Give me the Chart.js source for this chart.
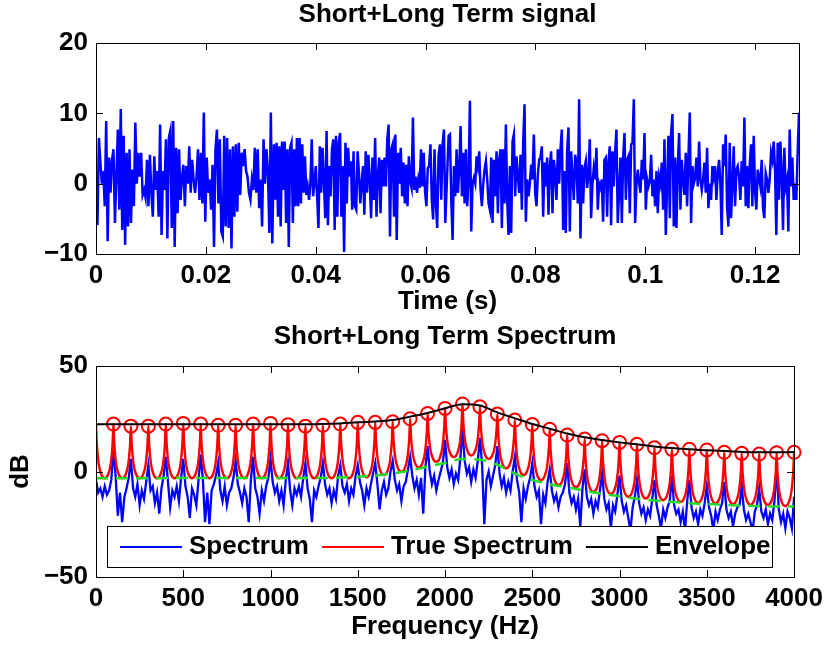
<!DOCTYPE html>
<html>
<head>
<meta charset="utf-8">
<script src="https://cdn.jsdelivr.net/npm/chart.js@4.4.1/dist/chart.umd.min.js"></script>
<style>
  html, body { margin: 0; padding: 0; background: #fff; }
  #wrap { position: relative; width: 829px; height: 648px; }
  canvas { position: absolute; left: 0; }
  #signalChart { top: 0; }
  #spectrumChart { top: 320px; }
</style>
</head>
<body>
<div id="wrap">
  <canvas id="signalChart" width="829" height="320"></canvas>
  <canvas id="spectrumChart" width="829" height="328"></canvas>
</div>
<script>
const signalPart1 = [0, -5.9, 6.5, 3, 0, 1.8, -3.2, 8.9, -8.2, 3.7,
  -1.3, 3.4, 4.9, -5.6, 1, 7.7, -3.7, 10.6, -6.6, 6.8,
  -8.7, 4.4, -6.1, 4.9, -5.6, 2, -3.2, 8.7, 0, 4.4,
  1, 4.4, -1.6, -0.9, -2, 3.4, -3.2, 4.1, -1.3, -4.7,
  3.9, -0.9, 1.8, -4.7, 8.4, -7.3, 1.8, -0.9, 6.3, -7.8,
  6.5, 7.5, -6.3, 8.9, -9, 5.1, -4.2, 4.9, -2.3, 0.8,
  2.7, -3.2, 2.5, 0, 5.3, -1.3, 3.4, 0.6, -1.3, 1,
  4.9, -2.3, 4.4, -2.8, 10.1, -5.4, 3.7, -1.3, 0.6, -3.7,
  2.7, -9, 4.9, 7.7, -2.8, 6.3, -6.8, -7.5, 6.8, -6.1,
  6.5, -6.3, 4.9, -9.2, 5.3, -4.7, 5.6, -4, 5.8, -1.6,
  4.4, 2.5, 4.9, 1.8, 1, -1.3, -2.3, 0.6, -0.9, 5.1,
  -1.3, 4.9, -3.5, 0.6, -6.1, 6.3, 0, 4.9, 1.8, -7,
  10.1, -8.5];
const signalPart2 = [5.6, -2.3, 5.8, -4.7, 5.3, -6.1, 6, -0.9, 6, -5.6,
  4.9, -9, 5.1, 5.8, -5.6, 4.9, -3.2, 6.5, -3.2, 6.5,
  -2.8, 5.6, -1.3, 3.9, -1.6, -0.4, -2.3, 0, 6.3, -1.8,
  0, 2.5, -1.8, -6.3, 5.3, -1.3, 5.1, 0.6, -4.9, 7.5,
  -5.9, 2.5, -1.8, 4.9, 6.3, -6.6, 6.8, -4.7, 5.8, 7.2,
  -4.7, 2.5, -9.7, 5.8, -2.8, 5.1, 1, 3.2, -3.7, 4.6,
  -3.2, -3.7, 4.6, 1.5, -2.8, 0, 2.5, -4.4, 4.6, -1.3,
  4.1, 0.6, -4.9, 3.7, -2.3, 6.5, -4.7, 1, 3.7, -4.2,
  3.4, -0.4, 3.7, -0.4, 6.3, 8.4, -7.5, 4.9, 5.6, -4.7,
  7, -8, 4.4, 0, 5.1, -1.8, 3, -2.8, 2.7, -3.2,
  3.9, 0.3, -0.6, 9.4, -0.9, 1, -1.3, 0.6, -0.6, 4.9,
  -0.4, 4.4, -1.1, -3.2, 2.2, 2.5, 5.6, -2.3, -5.1, 4.9,
  -2.8, -6.3, 3.9, 5.6, -2.3, 5.6, 7.7, -5.6];
const signalPart3 = [6.8, 7, -2.3, -8, 2.5, -1.8, 4.9, -1.3, 2, 8.2,
  -1.8, 4.4, -2.8, 4.9, -3.2, 0.6, 11.8, -6.8, 0, 0.8,
  0, 3.9, 2.5, 4.6, -0.9, -3.2, 0, 2, 3.2, 0.6,
  -2.8, -3.7, 3.7, -5.6, 3.4, -1.8, 4.6, -4.2, 3.4, 4.9,
  -6.3, 4.9, -2.8, 8.4, -2.3, -7.3, 2.5, -7, 6, 7,
  -1.8, 3.9, 1, -1.3, 4.1, -3.7, 5.8, 11.3, -5.4, 0.6,
  -1.8, 0, 2.7, 0.6, 7, -1.3, -3.2, 1.3, 3.4, 3.7,
  5.3, -4.7, 3, -0.4, 3.7, -4.4, 2.5, 4.6, -4.2, 3.4,
  1.5, -2.3, 4.9, 0, 4.9, 7.7, -6.6, 1.8, -7, 4.6,
  8, -6.8, 4.6, 1, -2.3, 4.1, 3, -2.8, 12, -7.8,
  2.7, -2.8, 2.2, 3.2, -0.6, 1.3, 6.3, -4.9, 0, 2.2,
  0.6, 5.1, -3.7, 0, -0.6, 0.6, -5.4, 3.4, 3.7, -4.7,
  3, 5.3, -5.9, 4.6, -0.4, 4.4, 7.7, -5.6];
const signalPart4 = [3.7, -5.6, 3.7, 7.2, -2.3, 3.4, 3.9, -4.2, 5.6, 5.8,
  12, -5.6, 0, 2, 0, -1.3, 3.4, 0.6, 7.2, -3.7,
  0.6, -0.4, 0.3, 4.1, -1.8, 0.6, -3.2, 1.8, -4.2, 1,
  0, 3, -3.7, 6.3, -7.3, 0, 6.8, -4.9, 7.2, 9.9,
  -6.1, 3.7, -6.3, 2.5, 7.2, -3.7, 3.4, 0.6, -1.6, 4.4,
  -3.2, 3.7, 10.1, -5.6, 2.5, 0, 0.8, 3.7, -0.4, 6,
  0.6, -0.9, 0.6, 3, -1.3, 5.1, -3.5, 0, -2.3, 2.5,
  1, 2.5, -2.3, 1.5, 3.4, 0, -7.3, 5.6, 2.5, 7,
  -3.2, -6.1, 5.8, -4.9, 0, 5.3, -3.2, 2, 2.5, 1,
  -2.3, 3.2, -0.4, 9.4, -3.2, 2.5, -3.5, 2.7, 5.6, -3.2,
  6.8, -1.1, -3.7, 2, 0.8, -0.4, 3.4, -3.5, -4.9, 1.5,
  0.6, -1.3, 0.6, 4.4, 3.4, 6, 2, -7.3, 5.8, -2.3,
  6, 1.8, -6.6, 5.1, -0.4, 0.6, -6.8, 7.7, -0.4, 3.7,
  -2.3, 0, -2.3, 4.4, 10.1];
// time span (s) covered by each stretch
const signalSpans = [[0, 0.0321], [0.0324, 0.0636], [0.0642, 0.0950], [0.0955, 0.128]];
const timeTicks = [0, 0.02, 0.04, 0.06, 0.08, 0.1, 0.12];
const signalTicks = [-10, 0, 10, 20];

// ---- bottom plot: spectra in dB ----
// measured spectrum, one value every 12.5 Hz from 0 to 4000 Hz
const spectrumDb = [
  -4, -10, -8, -12, -7, -11, -9, -4,
  10, -2, -21, -10, -24, -12, -8, -3,
  6, -8, -12, -6, -16, -9, -13, -5,
  3, -9, -7, -15, -10, -20, -8, -2,
  7, -5, -17, -9, -12, -7, -14, -3,
  6, -7, -12, -22, -8, -11, -16, -4,
  8, -4, -24, -10, -25, -9, -6, -2,
  4, -9, -14, -7, -16, -10, -8, -3,
  5, -6, -10, -15, -8, -12, -24, -4,
  7, -8, -12, -20, -9, -14, -7, -3,
  6, -5, -10, -7, -14, -9, -16, -4,
  4, -9, -16, -8, -11, -7, -12, -3,
  4, -8, -13, -24, -9, -12, -7, -3,
  4, -6, -11, -8, -15, -9, -13, -2,
  3, -7, -10, -6, -14, -8, -11, -2,
  3, -5, -9, -16, -8, -12, -6, -1,
  4, -6, -18, -9, -5, -11, -8, 0,
  5, -4, -9, -6, -14, -7, -5, 1,
  7, -2, -8, -4, -11, -3, -20, 2,
  12, 0, -6, -2, -9, -4, 0, 4,
  15, 2, -3, 1, -6, -1, -4, 6,
  20, 5, -1, 2, -5, 1, -3, 5,
  16, 3, -25, -4, 0, -7, -2, 3,
  12, -1, -7, -3, -10, -5, -9, 0,
  7, -4, -10, -24, -8, -13, -7, -3,
  4, -7, -12, -9, -25, -11, -15, -5,
  1, -9, -14, -11, -17, -12, -10, -6,
  4, -10, -15, -12, -18, -13, -26, -8,
  1, -12, -16, -13, -20, -14, -17, -9,
  -1, -13, -18, -15, -27, -16, -19, -11,
  -2, -14, -19, -16, -22, -28, -17, -12,
  -4, -15, -20, -17, -23, -18, -21, -13,
  -4, -16, -21, -27, -18, -22, -17, -14,
  -2, -16, -20, -18, -24, -19, -28, -14,
  -4, -17, -22, -19, -25, -18, -21, -15,
  -7, -17, -21, -28, -19, -23, -18, -15,
  -5, -18, -22, -19, -26, -20, -17, -16,
  -7, -18, -23, -20, -24, -28, -19, -16,
  -8, -19, -22, -18, -25, -20, -23, -14,
  2, -18, -24, -20, -27, -19, -22, -27,
  -12];
const spectrumStepHz = 12.5;

// true spectrum: per 100 Hz period, values at these offsets (Hz) after each harmonic
const harmonicHz = 100;
const trueOffsetsHz = [0, 5, 15, 30, 50, 70, 85, 95];
const trueSpectrumDb = [
  22.4, 12.9, 3.8, -1.3, -3.2, -1.3, 3.9, 13.0,
  22.5, 13.0, 3.9, -1.3, -3.2, -1.4, 3.6, 12.4,
  21.5, 12.4, 3.6, -1.4, -3.2, -1.4, 3.6, 12.4,
  21.5, 12.4, 3.6, -1.4, -3.2, -1.3, 3.9, 13.0,
  22.5, 13.0, 3.9, -1.3, -3.2, -1.3, 4.0, 13.2,
  22.8, 13.2, 4.0, -1.3, -3.2, -1.3, 3.9, 13.0,
  22.5, 13.0, 3.9, -1.3, -3.2, -1.4, 3.7, 12.6,
  21.9, 12.6, 3.7, -1.4, -3.2, -1.4, 3.7, 12.6,
  21.9, 12.6, 3.7, -1.4, -3.2, -1.3, 3.9, 13.0,
  22.5, 13.0, 3.9, -1.3, -3.2, -1.3, 4.0, 13.2,
  22.8, 13.2, 4.0, -1.3, -3.2, -1.3, 3.8, 12.8,
  22.2, 12.8, 3.8, -1.3, -3.2, -1.4, 3.6, 12.4,
  21.5, 12.4, 3.6, -1.4, -3.2, -1.4, 3.7, 12.6,
  21.9, 12.6, 3.7, -1.4, -3.2, -1.3, 3.9, 13.0,
  22.5, 13.0, 3.9, -1.3, -3.2, -1.3, 4.1, 13.5,
  23.3, 13.6, 4.4, -0.9, -2.8, -0.9, 4.4, 13.6,
  23.3, 14.1, 5.2, 0.1, -1.7, 0.2, 5.3, 14.2,
  23.6, 14.8, 6.4, 1.6, -0.1, 1.7, 6.8, 15.7,
  25.0, 16.5, 8.3, 3.6, 1.9, 3.8, 8.9, 18.0,
  27.5, 19.0, 10.9, 6.3, 4.6, 6.4, 11.6, 20.5,
  29.9, 21.4, 13.2, 8.5, 6.8, 8.6, 13.7, 22.7,
  32.0, 23.0, 14.3, 9.4, 7.6, 9.3, 14.0, 22.2,
  30.7, 21.6, 12.8, 7.8, 6.0, 7.5, 11.8, 19.4,
  27.2, 17.7, 8.6, 3.4, 1.5, 3.2, 7.8, 15.9,
  24.4, 14.7, 5.5, 0.2, -1.7, 0.1, 4.9, 13.4,
  22.3, 12.5, 3.2, -2.2, -4.1, -2.3, 2.5, 11.1,
  20.0, 10.2, 0.8, -4.6, -6.5, -4.8, 0.0, 8.5,
  17.3, 8.2, -0.6, -5.6, -7.4, -5.7, -1.1, 7.0,
  15.4, 6.2, -2.7, -7.8, -9.6, -7.8, -3.0, 5.7,
  14.6, 5.3, -3.7, -8.8, -10.6, -8.8, -3.9, 4.8,
  13.8, 4.3, -4.9, -10.1, -12.0, -10.2, -5.2, 3.7,
  12.9, 3.4, -5.7, -10.9, -12.8, -11.0, -6.2, 2.4,
  11.3, 2.1, -6.8, -11.8, -13.6, -11.8, -7.0, 1.6,
  10.5, 1.3, -7.6, -12.6, -14.4, -12.6, -7.6, 1.3,
  10.5, 1.1, -7.8, -13.0, -14.8, -13.0, -7.9, 1.0,
  10.2, 0.8, -8.1, -13.3, -15.1, -13.3, -8.5, 0.2,
  9.1, 0.0, -8.7, -13.7, -15.5, -13.7, -8.9, -0.3,
  8.6, -0.4, -9.1, -14.0, -15.8, -14.0, -9.2, -0.6,
  8.3, -0.7, -9.3, -14.1, -15.9, -14.1, -9.1, -0.3,
  8.9, -0.5, -9.4, -14.6, -16.4, -14.5, -9.4, -0.3,
  9.1];

// harmonic peaks (circles) at 100..4000 Hz
const peakDb = [22.5, 21.5, 21.5, 22.5, 22.8, 22.5, 21.9, 21.9, 22.5, 22.8,
  22.2, 21.5, 21.9, 22.5, 23.3, 23.3, 23.6, 25.0, 27.5, 29.9,
  32.0, 30.7, 27.2, 24.4, 22.3, 20.0, 17.3, 15.4, 14.6, 13.8,
  12.9, 11.3, 10.5, 10.5, 10.2, 9.1, 8.6, 8.3, 8.9, 9.1];

// envelope and dashed floor curve, every 100 Hz from 0 to 4000 Hz
const envelopeDb = [22.4, 22.4, 22.4, 22.4, 22.4, 22.4, 22.4, 22.4, 22.4, 22.4,
  22.4, 22.4, 22.4, 22.5, 22.8, 23.3, 23.7, 24.4, 26.0, 27.7,
  30.0, 31.9, 31.3, 28.0, 25.2, 22.5, 20.3, 18.0, 16.2, 14.9,
  13.8, 12.9, 11.9, 11.1, 10.5, 10.1, 9.7, 9.3, 9.1, 9.1, 9.2];
const floorDb = [-3.2, -3.2, -3.2, -3.2, -3.1, -3.1, -3.1, -3.1, -3.1, -3.1,
  -3.1, -3.1, -3.1, -3.1, -2.9, -2.5, -1.9, -0.9, 0.5, 2.3,
  4.0, 5.9, 5.6, 3.2, -1.0, -4.0, -6.0, -7.5, -9.1, -10.6,
  -11.7, -12.9, -13.8, -14.4, -15.0, -15.4, -15.8, -16.2, -16.4, -16.6, -16.6];
const freqTicks = [0, 500, 1000, 1500, 2000, 2500, 3000, 3500, 4000];
const dbTicks = [-50, 0, 50];

// ---- build point tables ----
const signalPoints = [signalPart1, signalPart2, signalPart3, signalPart4].flatMap((part, k) => {
  const [t0, t1] = signalSpans[k];
  return part.map((v, i) => ({ x: t0 + (t1 - t0) * i / (part.length - 1), y: v }));
});
const spectrumPoints = spectrumDb.map((v, i) => ({ x: i * spectrumStepHz, y: v }));
const truePoints = trueSpectrumDb.map((v, i) => ({
  x: Math.floor(i / trueOffsetsHz.length) * harmonicHz + trueOffsetsHz[i % trueOffsetsHz.length], y: v }));
const peakPoints = peakDb.map((v, i) => ({ x: (i + 1) * harmonicHz, y: v }));
const envelopePoints = envelopeDb.map((v, i) => ({ x: i * harmonicHz, y: v }));
const floorPoints = floorDb.map((v, i) => ({ x: i * harmonicHz, y: v }));

const FONT = '"Liberation Sans", Arial, Helvetica, sans-serif';
Chart.defaults.font.family = FONT;
Chart.defaults.font.size = 26;
Chart.defaults.font.weight = 'bold';
Chart.defaults.color = '#000';

const minus = v => (v < 0 ? '\u2212' + (-v) : String(v));

// box around the axes with inward tick marks on all four sides
const axesFrame = {
  id: 'axesFrame',
  afterDatasetsDraw(chart) {
    const { ctx, chartArea: a, scales: { x, y } } = chart;
    const len = 7;
    ctx.save();
    ctx.strokeStyle = '#000';
    ctx.lineWidth = 1;
    ctx.beginPath();
    x.ticks.forEach(t => {
      const px = Math.round(x.getPixelForValue(t.value)) + 0.5;
      ctx.moveTo(px, a.bottom); ctx.lineTo(px, a.bottom - len);
      ctx.moveTo(px, a.top); ctx.lineTo(px, a.top + len);
    });
    y.ticks.forEach(t => {
      const py = Math.round(y.getPixelForValue(t.value)) + 0.5;
      ctx.moveTo(a.left, py); ctx.lineTo(a.left + len, py);
      ctx.moveTo(a.right, py); ctx.lineTo(a.right - len, py);
    });
    ctx.stroke();
    ctx.strokeRect(Math.round(a.left) + 0.5, Math.round(a.top) + 0.5,
      Math.round(a.right - a.left), Math.round(a.bottom - a.top));
    ctx.restore();
  }
};

// legend box inside the axes, lower part
const boxLegend = {
  id: 'boxLegend',
  afterDatasetsDraw(chart) {
    const { ctx, chartArea: a } = chart;
    const items = chart.data.datasets.filter(d => d.inLegend);
    const left = Math.round(a.left) + 11, top = Math.round(a.bottom) - 51;
    const w = Math.round(a.right - a.left) - 33, h = 41;
    ctx.save();
    ctx.fillStyle = '#fff';
    ctx.fillRect(left, top, w, h);
    ctx.strokeStyle = '#000';
    ctx.lineWidth = 1;
    ctx.strokeRect(left + 0.5, top + 0.5, w, h);
    ctx.font = 'bold 26px ' + FONT;
    ctx.textBaseline = 'middle';
    let x = left + 13;
    const y = top + 21;
    items.forEach(d => {
      ctx.strokeStyle = d.borderColor;
      ctx.lineWidth = 2;
      ctx.beginPath();
      ctx.moveTo(x, y);
      ctx.lineTo(x + 62, y);
      ctx.stroke();
      x += 69;
      ctx.fillStyle = '#000';
      ctx.fillText(d.label, x, y);
      x += ctx.measureText(d.label).width + 13;
    });
    ctx.restore();
  }
};

const titleFont = { size: 26, weight: 'bold', lineHeight: 1 };

new Chart(document.getElementById('signalChart'), {
  type: 'line',
  data: {
    datasets: [{
      label: 'signal',
      data: signalPoints,
      borderColor: '#0000ff',
      borderWidth: 2.5,
      pointRadius: 0,
      tension: 0
    }]
  },
  options: {
    responsive: false,
    animation: false,
    events: [],
    layout: { padding: { left: 0, right: 30, top: 0, bottom: 0 } },
    plugins: {
      legend: { display: false },
      tooltip: { enabled: false },
      title: {
        display: true, text: 'Short+Long Term signal', fullSize: false,
        font: titleFont, color: '#000', padding: { top: 2, bottom: 15 }
      }
    },
    scales: {
      x: {
        type: 'linear', min: 0, max: 0.128,
        grid: { display: false, drawTicks: false },
        border: { display: false },
        afterBuildTicks: s => { s.ticks = timeTicks.map(v => ({ value: v })); },
        ticks: { padding: 6, maxRotation: 0, autoSkip: false, callback: v => String(+v.toFixed(3)) },
        title: { display: true, text: 'Time (s)', font: titleFont, padding: { top: 0, bottom: 5 } },
        afterFit: s => { s.height = 66; }
      },
      y: {
        min: -10, max: 20,
        grid: { display: false, drawTicks: false },
        border: { display: false },
        afterBuildTicks: s => { s.ticks = signalTicks.map(v => ({ value: v })); },
        ticks: { padding: 8, callback: minus },
        afterFit: s => { s.width = 96; }
      }
    }
  },
  plugins: [axesFrame]
});

new Chart(document.getElementById('spectrumChart'), {
  type: 'line',
  data: {
    datasets: [
      { label: 'Spectrum', inLegend: true, data: spectrumPoints, borderColor: '#0000ff',
        borderWidth: 2.3, pointRadius: 0, tension: 0, order: 4 },
      { label: 'True Spectrum', inLegend: true, data: truePoints, borderColor: '#ff0000',
        borderWidth: 2.4, pointRadius: 0, cubicInterpolationMode: 'monotone', order: 3 },
      { label: 'Envelope', inLegend: true, data: envelopePoints, borderColor: '#000000',
        borderWidth: 2, pointRadius: 0, cubicInterpolationMode: 'monotone', order: 1 },
      { label: 'peaks', data: peakPoints, showLine: false, pointStyle: 'circle',
        pointRadius: 6.5, pointBorderWidth: 2, pointBorderColor: '#ff0000',
        pointBackgroundColor: 'rgba(0,0,0,0)', borderColor: '#ff0000', clip: false, order: 2 },
      { label: 'floor', data: floorPoints, borderColor: '#22dd22', borderWidth: 2.5,
        borderDash: [12, 8], pointRadius: 0, cubicInterpolationMode: 'monotone', order: 0 }
    ]
  },
  options: {
    responsive: false,
    animation: false,
    events: [],
    layout: { padding: { left: 0, right: 30, top: 0, bottom: 0 } },
    plugins: {
      legend: { display: false },
      tooltip: { enabled: false },
      title: {
        display: true, text: 'Short+Long Term Spectrum', fullSize: false,
        font: titleFont, color: '#000', padding: { top: 4, bottom: 16 }
      }
    },
    scales: {
      x: {
        type: 'linear', min: 0, max: 4000,
        grid: { display: false, drawTicks: false },
        border: { display: false },
        afterBuildTicks: s => { s.ticks = freqTicks.map(v => ({ value: v })); },
        ticks: { padding: 6, maxRotation: 0, autoSkip: false, callback: v => String(v) },
        title: { display: true, text: 'Frequency (Hz)', font: titleFont, padding: { top: 0, bottom: 8 } },
        afterFit: s => { s.height = 71; }
      },
      y: {
        min: -50, max: 50,
        grid: { display: false, drawTicks: false },
        border: { display: false },
        afterBuildTicks: s => { s.ticks = dbTicks.map(v => ({ value: v })); },
        ticks: { padding: 8, callback: minus },
        title: { display: true, text: 'dB', font: titleFont, padding: { top: 8, bottom: 0 } },
        afterFit: s => { s.width = 96; }
      }
    }
  },
  plugins: [boxLegend, axesFrame]
});
</script>
</body>
</html>
